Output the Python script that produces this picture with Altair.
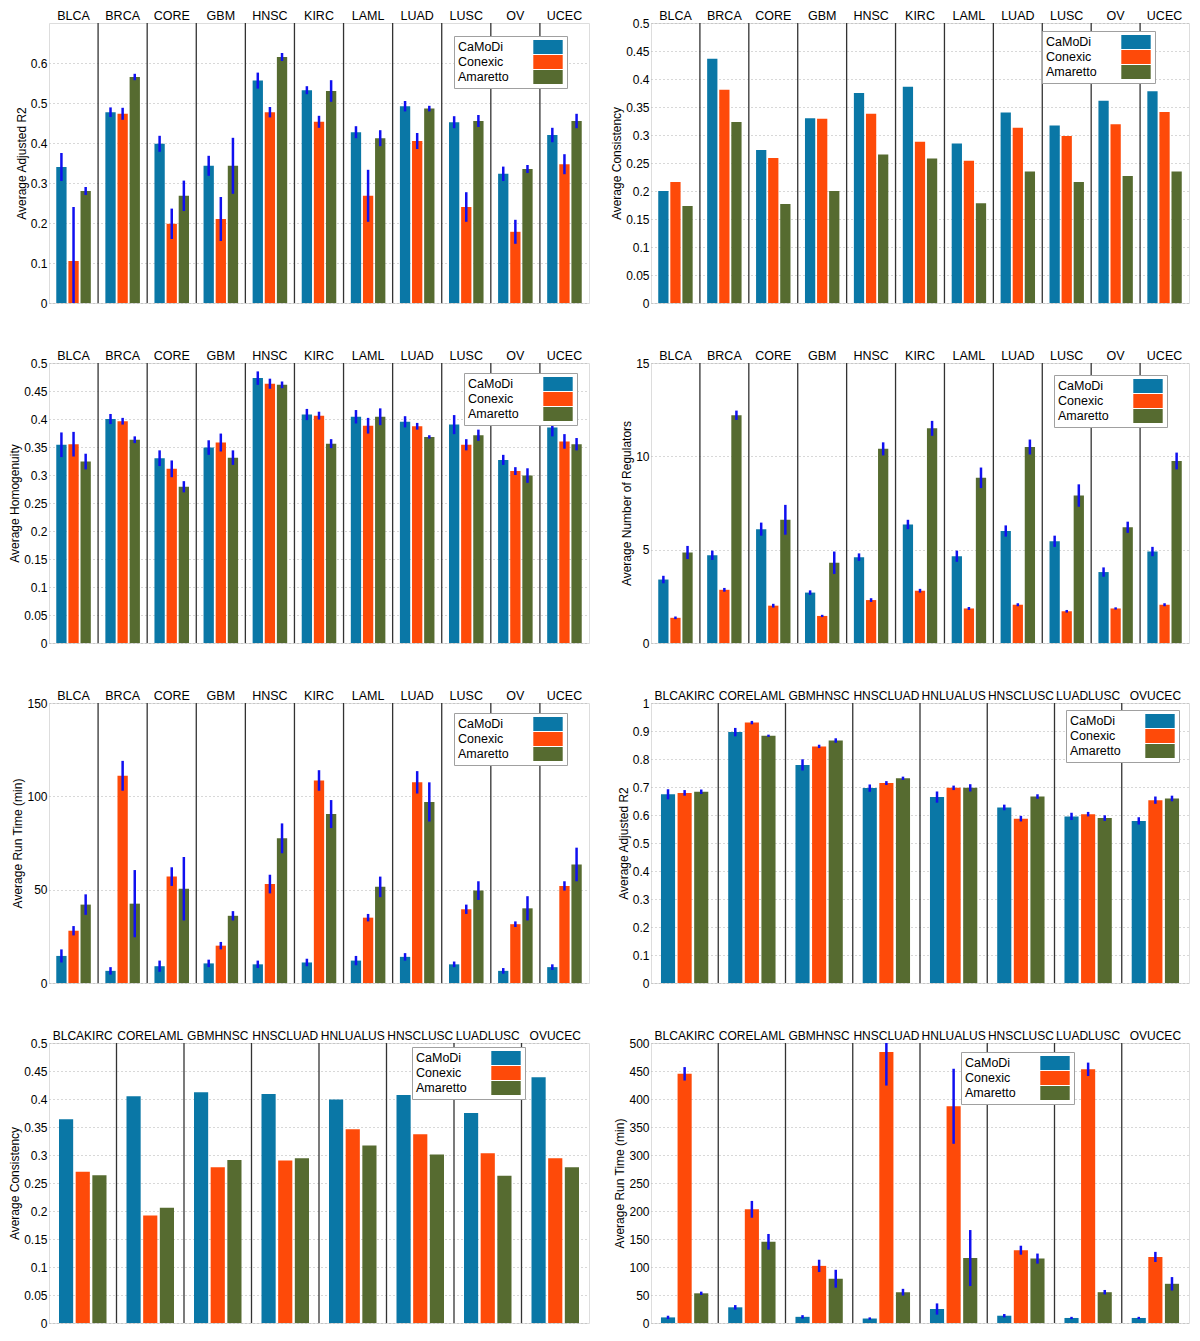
import altair as alt
import pandas as pd

methods = ["CaMoDi", "Conexic", "Amaretto"]
bar_colors = ["#0a77a6", "#fe4a09", "#566b30"]

cancers = ["BLCA", "BRCA", "CORE", "GBM", "HNSC", "KIRC", "LAML", "LUAD", "LUSC", "OV", "UCEC"]
pairs = ["BLCAKIRC", "CORELAML", "GBMHNSC", "HNSCLUAD", "HNLUALUS", "HNSCLUSC", "LUADLUSC", "OVUCEC"]

# ---- Panel A: Average Adjusted R2 (single cancers)
r2_camodi = [0.340, 0.477, 0.398, 0.343, 0.556, 0.532, 0.427, 0.492, 0.452, 0.323, 0.420]
r2_conexic = [0.105, 0.473, 0.198, 0.210, 0.477, 0.453, 0.268, 0.405, 0.240, 0.178, 0.347]
r2_amaretto = [0.280, 0.565, 0.268, 0.343, 0.615, 0.530, 0.412, 0.486, 0.455, 0.335, 0.455]
r2_camodi_err = [0.035, 0.012, 0.020, 0.025, 0.020, 0.010, 0.015, 0.013, 0.015, 0.018, 0.018]
r2_conexic_err = [0.135, 0.015, 0.038, 0.055, 0.013, 0.015, 0.065, 0.020, 0.037, 0.030, 0.025]
r2_amaretto_err = [0.010, 0.008, 0.038, 0.070, 0.010, 0.027, 0.020, 0.007, 0.015, 0.010, 0.018]

# ---- Panel B: Average Consistency (single cancers)
cons_camodi = [0.200, 0.436, 0.273, 0.330, 0.375, 0.386, 0.285, 0.340, 0.317, 0.361, 0.378]
cons_conexic = [0.216, 0.381, 0.259, 0.329, 0.338, 0.288, 0.254, 0.313, 0.298, 0.319, 0.341]
cons_amaretto = [0.173, 0.323, 0.177, 0.200, 0.265, 0.258, 0.178, 0.235, 0.216, 0.227, 0.235]

# ---- Panel C: Average Homogenuity
hom_camodi = [0.354, 0.400, 0.330, 0.349, 0.473, 0.408, 0.404, 0.395, 0.390, 0.327, 0.385]
hom_conexic = [0.355, 0.396, 0.311, 0.358, 0.463, 0.406, 0.388, 0.387, 0.354, 0.307, 0.360]
hom_amaretto = [0.324, 0.363, 0.279, 0.331, 0.461, 0.356, 0.404, 0.368, 0.371, 0.299, 0.355]
hom_camodi_err = [0.022, 0.009, 0.014, 0.013, 0.012, 0.010, 0.012, 0.010, 0.017, 0.009, 0.016]
hom_conexic_err = [0.022, 0.006, 0.015, 0.016, 0.009, 0.007, 0.014, 0.006, 0.010, 0.007, 0.013]
hom_amaretto_err = [0.014, 0.006, 0.010, 0.013, 0.006, 0.008, 0.015, 0.003, 0.010, 0.013, 0.011]

# ---- Panel D: Average Number of Regulators
reg_camodi = [3.40, 4.70, 6.10, 2.70, 4.60, 6.35, 4.65, 6.00, 5.45, 3.80, 4.90]
reg_conexic = [1.35, 2.85, 2.00, 1.45, 2.30, 2.80, 1.85, 2.05, 1.70, 1.85, 2.05]
reg_amaretto = [4.85, 12.20, 6.60, 4.30, 10.40, 11.50, 8.85, 10.50, 7.90, 6.20, 9.75]
reg_camodi_err = [0.20, 0.25, 0.35, 0.12, 0.20, 0.25, 0.30, 0.30, 0.30, 0.25, 0.25]
reg_conexic_err = [0.07, 0.10, 0.10, 0.06, 0.10, 0.10, 0.08, 0.08, 0.07, 0.06, 0.08]
reg_amaretto_err = [0.35, 0.25, 0.80, 0.60, 0.35, 0.40, 0.55, 0.40, 0.60, 0.30, 0.45]

# ---- Panel E: Average Run Time (single cancers)
rt_camodi = [14.5, 6.5, 9.0, 10.5, 10.0, 11.0, 12.0, 14.0, 10.0, 6.5, 8.5]
rt_conexic = [28.0, 111.0, 57.0, 20.0, 53.0, 108.5, 35.0, 107.5, 39.5, 31.5, 52.0]
rt_amaretto = [42.0, 42.5, 50.5, 36.0, 77.5, 90.5, 51.5, 97.0, 49.5, 40.0, 63.5]
rt_camodi_err = [3.5, 2.0, 3.0, 2.0, 2.0, 2.0, 2.5, 2.0, 1.5, 1.5, 1.5]
rt_conexic_err = [2.5, 8.0, 5.0, 2.0, 5.0, 5.5, 2.0, 6.0, 2.5, 1.5, 2.5]
rt_amaretto_err = [5.5, 18.0, 17.0, 2.5, 8.0, 7.5, 5.5, 10.5, 5.0, 6.5, 9.0]

# ---- Panel F: Average Adjusted R2 (cancer pairs)
pr2_camodi = [0.674, 0.896, 0.779, 0.696, 0.664, 0.627, 0.595, 0.579]
pr2_conexic = [0.679, 0.930, 0.845, 0.714, 0.697, 0.587, 0.603, 0.653]
pr2_amaretto = [0.683, 0.883, 0.866, 0.731, 0.697, 0.666, 0.589, 0.659]
pr2_camodi_err = [0.018, 0.015, 0.020, 0.013, 0.020, 0.010, 0.013, 0.013]
pr2_conexic_err = [0.010, 0.006, 0.006, 0.007, 0.008, 0.010, 0.008, 0.013]
pr2_amaretto_err = [0.008, 0.004, 0.008, 0.006, 0.013, 0.008, 0.010, 0.010]

# ---- Panel G: Average Consistency (cancer pairs)
pcons_camodi = [0.364, 0.405, 0.412, 0.409, 0.399, 0.407, 0.375, 0.439]
pcons_conexic = [0.270, 0.192, 0.278, 0.290, 0.346, 0.337, 0.303, 0.294]
pcons_amaretto = [0.264, 0.206, 0.291, 0.294, 0.317, 0.301, 0.263, 0.278]

# ---- Panel H: Average Run Time (cancer pairs)
prt_camodi = [10.0, 28.0, 11.0, 8.0, 25.0, 13.0, 9.0, 9.0]
prt_conexic = [445.0, 203.0, 102.0, 484.0, 387.0, 130.0, 453.0, 118.0]
prt_amaretto = [53.0, 145.0, 79.0, 55.0, 116.0, 115.0, 55.0, 70.0]
prt_camodi_err = [3.0, 4.0, 3.0, 2.0, 10.0, 3.0, 2.0, 2.0]
prt_conexic_err = [12.0, 15.0, 11.0, 60.0, 67.0, 8.0, 12.0, 9.0]
prt_amaretto_err = [3.0, 14.0, 16.0, 6.0, 50.0, 9.0, 4.0, 12.0]

# tick values
ticks_r2 = [0, 0.1, 0.2, 0.3, 0.4, 0.5, 0.6]
ticks_half = [0, 0.05, 0.1, 0.15, 0.2, 0.25, 0.3, 0.35, 0.4, 0.45, 0.5]
ticks_reg = [0, 5, 10, 15]
ticks_rt = [0, 50, 100, 150]
ticks_one = [0, 0.1, 0.2, 0.3, 0.4, 0.5, 0.6, 0.7, 0.8, 0.9, 1]
ticks_prt = [0, 50, 100, 150, 200, 250, 300, 350, 400, 450, 500]

FONT = "Liberation Sans"
W_LEFT = 540
W_RIGHT = 538
H = 280
SYM_OFF = 83


def panel(groups, vals, errs, ytitle, ymax, ticks, lx, ly, width, gfont=12.5):
    rows = []
    for i, m in enumerate(methods):
        for j, g in enumerate(groups):
            v = vals[i][j]
            e = errs[i][j] if errs else 0.0
            rows.append({"group": g, "method": m, "value": v, "lo": v - e, "hi": v + e})
    df = pd.DataFrame(rows)

    xscale = alt.Scale(domain=groups, paddingInner=0, paddingOuter=0)
    xaxis = alt.Axis(orient="top", title=None, domain=False, ticks=False, tickSize=0,
                     labelAngle=0, labelPadding=1, labelFontSize=gfont, labelColor="black",
                     labelFont=FONT, grid=False, minExtent=0)
    x = alt.X("group:N", scale=xscale, axis=xaxis)
    xo = alt.XOffset("method:N", scale=alt.Scale(domain=methods, paddingInner=0.15, paddingOuter=0.6))
    yscale = alt.Scale(domain=[0, ymax], nice=False, zero=True)
    yaxis = alt.Axis(values=ticks, labelExpr="toString(datum.value)", title=ytitle, grid=True,
                     gridDash=[1, 3], gridColor="#b0b0b0", domain=False, ticks=False, tickSize=0,
                     labelPadding=2, labelFontSize=12, labelColor="black", labelFont=FONT,
                     titleFontSize=12, titleFontWeight="normal", titleColor="black",
                     titleFont=FONT, titlePadding=2, minExtent=0)

    legend = alt.Legend(orient="none", legendX=lx, legendY=ly, title=None,
                        symbolType="M-2.1,-1H2.1V1H-2.1Z", symbolSize=196,
                        symbolStrokeWidth=0, symbolOffset=SYM_OFF,
                        labelOffset={"expr": str(-(SYM_OFF + 14))},
                        labelFontSize=12.5, labelFont=FONT, labelColor="black",
                        strokeColor="#a0a0a0", fillColor="white", padding=4,
                        rowPadding=1, symbolOpacity=1)

    bars = alt.Chart(df).mark_bar().encode(
        x=x, xOffset=xo,
        y=alt.Y("value:Q", scale=yscale, axis=yaxis),
        color=alt.Color("method:N", scale=alt.Scale(domain=methods, range=bar_colors), legend=legend),
    )
    layers = [bars]
    if errs:
        eb = alt.Chart(df).mark_rule(color="#1010f0", strokeWidth=2.5, clip=True).encode(
            x=x, xOffset=xo,
            y=alt.Y("lo:Q", scale=yscale, axis=yaxis),
            y2="hi:Q",
        )
        layers.append(eb)
    sep = alt.Chart(pd.DataFrame({"group": groups[1:]})).mark_rule(color="#333333", strokeWidth=1.3).encode(
        x=alt.X("group:N", scale=xscale, axis=xaxis, bandPosition=0)
    )
    layers.append(sep)
    return alt.layer(*layers).properties(width=width, height=H)


pA = panel(cancers, [r2_camodi, r2_conexic, r2_amaretto],
           [r2_camodi_err, r2_conexic_err, r2_amaretto_err],
           "Average Adjusted R2", 0.7, ticks_r2, 405, 13, W_LEFT)
pB = panel(cancers, [cons_camodi, cons_conexic, cons_amaretto], None,
           "Average Consistency", 0.5, ticks_half, 391, 8, W_RIGHT)
pC = panel(cancers, [hom_camodi, hom_conexic, hom_amaretto],
           [hom_camodi_err, hom_conexic_err, hom_amaretto_err],
           "Average Homogenuity", 0.5, ticks_half, 415, 10, W_LEFT)
pD = panel(cancers, [reg_camodi, reg_conexic, reg_amaretto],
           [reg_camodi_err, reg_conexic_err, reg_amaretto_err],
           "Average Number of Regulators", 15, ticks_reg, 403, 12, W_RIGHT)
pE = panel(cancers, [rt_camodi, rt_conexic, rt_amaretto],
           [rt_camodi_err, rt_conexic_err, rt_amaretto_err],
           "Average Run Time (min)", 150, ticks_rt, 405, 10, W_LEFT)
pF = panel(pairs, [pr2_camodi, pr2_conexic, pr2_amaretto],
           [pr2_camodi_err, pr2_conexic_err, pr2_amaretto_err],
           "Average Adjusted R2", 1, ticks_one, 415, 7, W_RIGHT, gfont=12)
pG = panel(pairs, [pcons_camodi, pcons_conexic, pcons_amaretto], None,
           "Average Consistency", 0.5, ticks_half, 363, 4, W_LEFT, gfont=12)
pH = panel(pairs, [prt_camodi, prt_conexic, prt_amaretto],
           [prt_camodi_err, prt_conexic_err, prt_amaretto_err],
           "Average Run Time (min)", 500, ticks_prt, 310, 9, W_RIGHT, gfont=12)

chart = alt.concat(pA, pB, pC, pD, pE, pF, pG, pH, columns=2,
                   spacing={"row": 38, "column": 20}).resolve_scale(
    color="independent", x="independent", xOffset="independent", y="independent"
).resolve_legend(color="independent").properties(
    padding={"left": 0, "top": 0, "right": 0, "bottom": 0}
).configure_view(stroke="#8a8a8a", strokeWidth=1).configure(font=FONT, background="white")

chart.save("out.html", embed_options={"renderer": "svg", "actions": False})
